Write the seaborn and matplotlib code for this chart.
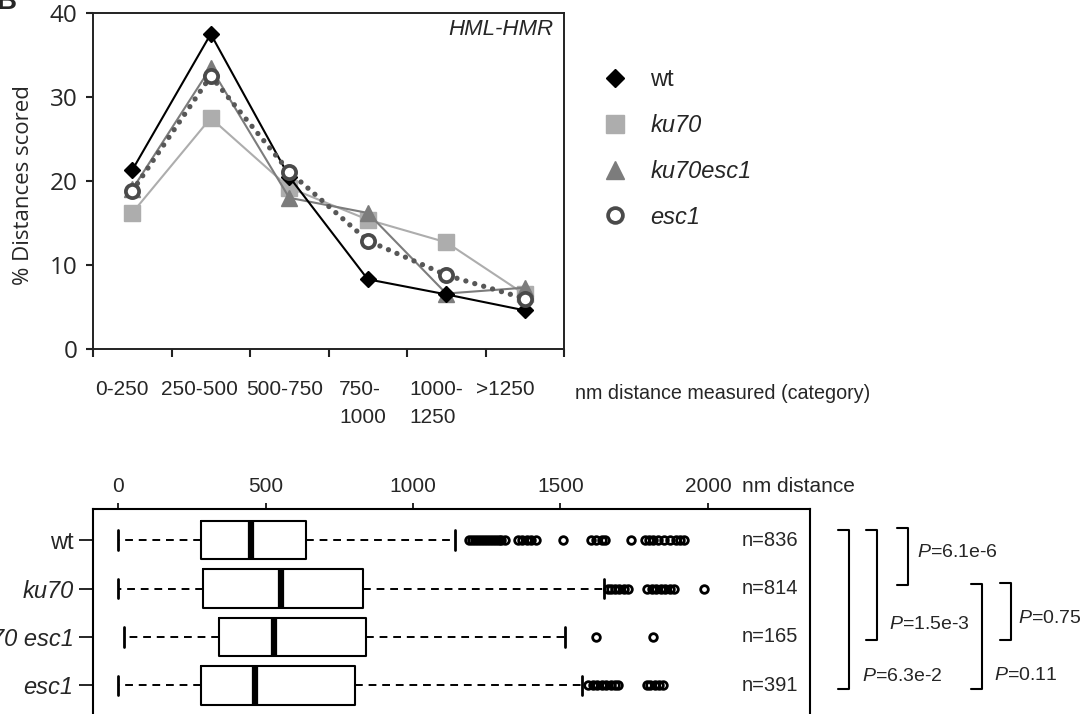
import numpy as np
import pandas as pd
import matplotlib
matplotlib.use('Agg')
import matplotlib.pyplot as plt
import seaborn as sns
from matplotlib.lines import Line2D

sns.set_style('ticks')
plt.rcParams['font.family'] = ['Liberation Sans', 'DejaVu Sans']
plt.rcParams['mathtext.fontset'] = 'custom'
plt.rcParams['mathtext.rm'] = 'Liberation Sans'
plt.rcParams['mathtext.it'] = 'Liberation Sans:italic'

## Data - top panel (% distances per category)
categories = ['0-250', '250-500', '500-750', '750-\n1000', '1000-\n1250', '>1250']
wt = [21.3, 37.5, 20.5, 8.3, 6.5, 4.6]
ku70 = [16.2, 27.5, 19.2, 15.4, 12.7, 6.5]
ku70esc1 = [19.0, 33.5, 18.0, 16.2, 6.6, 7.3]
esc1 = [18.8, 32.5, 21.1, 12.9, 8.8, 6.0]

## Data - bottom panel (nm distance box stats)
strains = ['wt', 'ku70', 'ku70 esc1', 'esc1']
n_counts = [836, 814, 165, 391]
whis_lo = [0, 0, 20, 0]
q1 = [281, 289, 341, 281]
med = [450, 552, 528, 464]
q3 = [636, 832, 839, 802]
whis_hi = [1143, 1648, 1516, 1573]
fliers_wt = [1190, 1200, 1210, 1220, 1230, 1240, 1250, 1260, 1270, 1280, 1290, 1300, 1312,
             1355, 1370, 1385, 1400, 1418, 1510, 1605, 1620, 1640, 1650, 1738,
             1785, 1800, 1815, 1830, 1850, 1870, 1890, 1905, 1920]
fliers_ku70 = [1660, 1672, 1685, 1700, 1715, 1728, 1795, 1810, 1825, 1840, 1855, 1870, 1885, 1986]
fliers_ku70esc1 = [1620, 1813]
fliers_esc1 = [1595, 1610, 1625, 1640, 1655, 1670, 1685, 1695, 1792, 1805, 1820, 1835, 1847]

## P-value brackets
p_text = ['6.1e-6', '1.5e-3', '6.3e-2', '0.75', '0.11']
p_span = [(-0.25, 0.93), (-0.21, 2.06), (-0.21, 3.07), (0.89, 2.06), (0.91, 3.07)]
p_xline = [2678, 2573, 2478, 3027, 2929]
p_label_xy = [(2708, 0.25), (2614, 1.75), (2522, 2.82), (3051, 1.61), (2969, 2.80)]

W, H = 1082, 714
fig = plt.figure(figsize=(W / 100, H / 100), dpi=100)

##Top panel
ax = fig.add_axes([93 / W, 1 - 349 / H, (564 - 93) / W, (349 - 13) / H])
df = pd.DataFrame({'pos': np.arange(len(categories)), 'wt': wt, 'ku70': ku70,
                   'ku70esc1': ku70esc1, 'esc1': esc1})

styles = {
    'wt': dict(color='black', marker='D', markersize=8.5, markerfacecolor='black',
               markeredgecolor='black', markeredgewidth=1, linewidth=1.5, linestyle='-'),
    'ku70': dict(color='#adadad', marker='s', markersize=11, markerfacecolor='#adadad',
                 markeredgecolor='#adadad', markeredgewidth=1, linewidth=1.5, linestyle='-'),
    'ku70esc1': dict(color='#7c7c7c', marker='^', markersize=12, markerfacecolor='#7c7c7c',
                     markeredgecolor='#7c7c7c', markeredgewidth=1, linewidth=1.5, linestyle='-'),
    'esc1': dict(color='#575757', marker='o', markersize=9.5, markerfacecolor='white',
                 markeredgecolor='#4a4a4a', markeredgewidth=2.7, linewidth=3.8,
                 linestyle=(0, (0.01, 1.75)), dash_capstyle='round'),
}
for name in ['ku70', 'ku70esc1', 'wt', 'esc1']:
    sns.lineplot(data=df, x='pos', y=name, ax=ax, **styles[name])

ax.set_xlim(-0.5, 5.5)
ax.set_ylim(0, 40)
ax.set_yticks([0, 10, 20, 30, 40])
# labels sit a little left of the category centres, like the original figure
label_shift_px = np.array([-10, -11, -5, -5, -10, -19])
ax.set_xticks(np.arange(6) + label_shift_px / 78.5)
ax.set_xticks(np.arange(7) - 0.5, minor=True)
ax.set_xticklabels(categories, fontsize=15, linespacing=1.6, multialignment='left', va='top')
ax.tick_params(axis='x', which='major', length=0, pad=22)
ax.tick_params(axis='x', which='minor', length=6, width=1.5, color='#222222', direction='out')
ax.tick_params(axis='y', length=5, width=1.5, color='#222222', pad=6, labelsize=17.5)
for lab in ax.get_yticklabels():
    lab.set_fontfamily('Open Sans')
ax.set_xlabel('')
ax.set_ylabel('% Distances scored', fontsize=16, fontfamily='Open Sans')
ax.yaxis.set_label_coords(-0.125, 0.487)
for s in ax.spines.values():
    s.set_linewidth(1.4)
    s.set_color('#222222')
ax.text(0.978, 0.95, 'HML-HMR', transform=ax.transAxes, ha='right', va='center',
        fontsize=16, fontstyle='italic')
fig.text(575 / W, 1 - 399 / H, 'nm distance measured (category)', fontsize=14.2, va='baseline')
fig.text(16 / W, 1 - 9 / H, 'B', fontsize=20, fontweight='bold', ha='right', va='baseline')

handles = []
for name in ['wt', 'ku70', 'ku70esc1', 'esc1']:
    st = {k: v for k, v in styles[name].items() if k.startswith('marker') or k == 'color'}
    handles.append(Line2D([], [], linestyle='none', **st))
leg = fig.legend(handles, ['wt', 'ku70', 'ku70esc1', 'esc1'], loc='upper left',
                 bbox_to_anchor=(603 / W, 1 - 69 / H), frameon=False, fontsize=17,
                 handlelength=1.0, handletextpad=1.0, labelspacing=0.97, markerscale=1.12,
                 borderpad=0, borderaxespad=0)
for t in leg.get_texts()[1:]:
    t.set_fontstyle('italic')

##Bottom panel
ax2 = fig.add_axes([93 / W, 1 - 716 / H, (810 - 93) / W, (716 - 509) / H])
fliers = [fliers_wt, fliers_ku70, fliers_ku70esc1, fliers_esc1]
stats = []
for i in range(len(strains)):
    stats.append(dict(med=med[i], q1=q1[i], q3=q3[i], whislo=whis_lo[i],
                      whishi=whis_hi[i], fliers=fliers[i], label=strains[i]))
ax2.bxp(stats, positions=np.arange(4), orientation='horizontal', widths=0.8, capwidths=0.4,
        boxprops=dict(color='black', linewidth=1.5),
        medianprops=dict(color='black', linewidth=4.5, solid_capstyle='butt'),
        whiskerprops=dict(color='black', linewidth=1.4, linestyle=(0, (4, 3))),
        capprops=dict(color='black', linewidth=2),
        flierprops=dict(marker='o', markersize=5.5, markerfacecolor='none',
                        markeredgecolor='black', markeredgewidth=2))
ax2.set_xlim(-85, 2346)
ax2.set_ylim(3.63, -0.64)
ax2.xaxis.tick_top()
ax2.set_xticks([0, 500, 1000, 1500, 2000])
ax2.set_xticklabels(['0', '500', '1000', '1500', '2000'])
ax2.tick_params(axis='x', length=4, width=1.4, pad=5, labelsize=15, direction='out')
ax2.set_yticks(np.arange(4))
ax2.set_yticklabels(strains)
for t in ax2.get_yticklabels()[1:]:
    t.set_fontstyle('italic')
ax2.tick_params(axis='y', length=10, width=1.4, pad=4, labelsize=17, direction='out')
for s in ax2.spines.values():
    s.set_linewidth(1.5)
    s.set_color('black')
fig.text(742 / W, 1 - 492 / H, 'nm distance', fontsize=15, va='baseline')

for i, n in enumerate(n_counts):
    ax2.text(2115, i, f'n={n}', fontsize=14.5, va='center', ha='left')

hook = 37
for txt, (y0, y1), xl, (tx, ty) in zip(p_text, p_span, p_xline, p_label_xy):
    ax2.plot([xl - hook, xl, xl, xl - hook], [y0, y0, y1, y1], color='black',
             linewidth=1.5, clip_on=False)
    ax2.text(tx, ty, r'$P$=' + txt, fontsize=14, va='center', ha='left', clip_on=False)

plt.savefig('out.png', dpi=100)
